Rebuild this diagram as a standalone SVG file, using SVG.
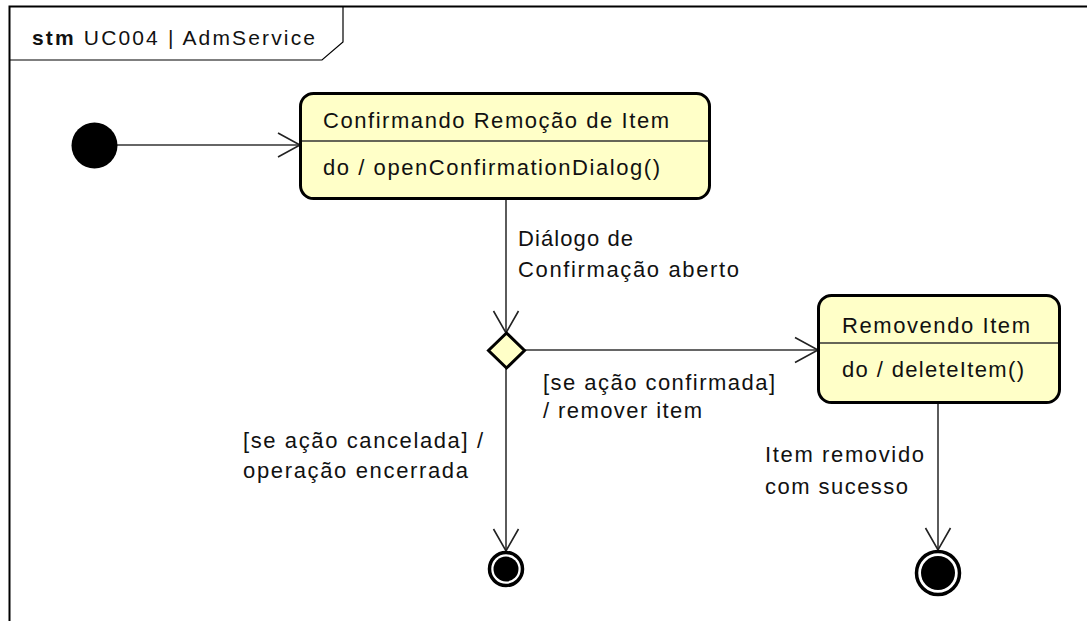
<svg xmlns="http://www.w3.org/2000/svg" width="1087" height="621" viewBox="0 0 1087 621">
  <defs>
    <style>
      text { font-family: "Liberation Sans", Arial, sans-serif; font-size: 22px; fill: #111; }
      .title { font-size: 21px; }
      .state { fill: #ffffc8; stroke: #000; stroke-width: 3; }
      .div { stroke: #333; stroke-width: 1.5; }
      .edge { fill: none; stroke: #333; stroke-width: 1.6; }
      .head { fill: none; stroke: #222; stroke-width: 1.6; }
    </style>
  </defs>
  <rect width="1087" height="621" fill="#fff"/>
  <g id="frame">
    <path d="M9.5,621 V6.5 H1087" fill="none" stroke="#000" stroke-width="2"/>
    <path d="M9.5,60 H322 L343,42 V6.5" fill="none" stroke="#000" stroke-width="1.2"/>
    <text class="title" x="32" y="45" textLength="283" lengthAdjust="spacing"><tspan font-weight="bold">stm</tspan> UC004 | AdmService</text>
  </g>
  <g id="connectors">
    <path class="edge" d="M117,145 H300"/>
    <path class="head" d="M278,133 L300,145 L278,157"/>
    <path class="edge" d="M506,198 V333"/>
    <path class="head" d="M493.5,311 L506,333 L518.5,311"/>
    <path class="edge" d="M524,350 H818"/>
    <path class="head" d="M795,337.5 L818,350 L795,362.5"/>
    <path class="edge" d="M506,368 V551"/>
    <path class="head" d="M493.5,529 L506,551 L518.5,529"/>
    <path class="edge" d="M938,403 V550"/>
    <path class="head" d="M925.5,528 L938,550 L950.5,528"/>
    <text x="518" y="246" textLength="115" lengthAdjust="spacing">Diálogo de</text>
    <text x="518" y="277" textLength="221" lengthAdjust="spacing">Confirmação aberto</text>
    <text x="543" y="390" textLength="232" lengthAdjust="spacing">[se ação confirmada]</text>
    <text x="543" y="418" textLength="159" lengthAdjust="spacing">/ remover item</text>
    <text x="243" y="448" textLength="240" lengthAdjust="spacing">[se ação cancelada] /</text>
    <text x="243" y="478" textLength="225" lengthAdjust="spacing">operação encerrada</text>
    <text x="765" y="462" textLength="159" lengthAdjust="spacing">Item removido</text>
    <text x="765" y="494" textLength="143" lengthAdjust="spacing">com sucesso</text>
  </g>
  <g id="initial">
    <circle cx="94.5" cy="145.5" r="23" fill="#000"/>
  </g>
  <g id="state-confirmando">
    <rect class="state" x="300.5" y="93.5" width="409" height="105" rx="13"/>
    <line class="div" x1="302" y1="141" x2="708" y2="141"/>
    <text x="323" y="128" textLength="346" lengthAdjust="spacing">Confirmando Remoção de Item</text>
    <text x="323" y="175" textLength="337" lengthAdjust="spacing">do / openConfirmationDialog()</text>
  </g>
  <g id="decision">
    <path d="M506.5,333 L524.5,350.5 L506.5,368 L488.5,350.5 Z" fill="#ffffc8" stroke="#000" stroke-width="3"/>
  </g>
  <g id="state-removendo">
    <rect class="state" x="818.5" y="295.5" width="241" height="107" rx="13"/>
    <line class="div" x1="820" y1="343" x2="1058" y2="343"/>
    <text x="842" y="333" textLength="188" lengthAdjust="spacing">Removendo Item</text>
    <text x="842" y="377" textLength="182" lengthAdjust="spacing">do / deleteItem()</text>
  </g>
  <g id="final-cancel">
    <circle cx="506" cy="569" r="16.5" fill="#fff" stroke="#000" stroke-width="3.5"/>
    <circle cx="506" cy="569" r="12.5" fill="#000"/>
  </g>
  <g id="final-success">
    <circle cx="938" cy="573" r="21.5" fill="#fff" stroke="#000" stroke-width="3.5"/>
    <circle cx="938" cy="573" r="17" fill="#000"/>
  </g>
</svg>
